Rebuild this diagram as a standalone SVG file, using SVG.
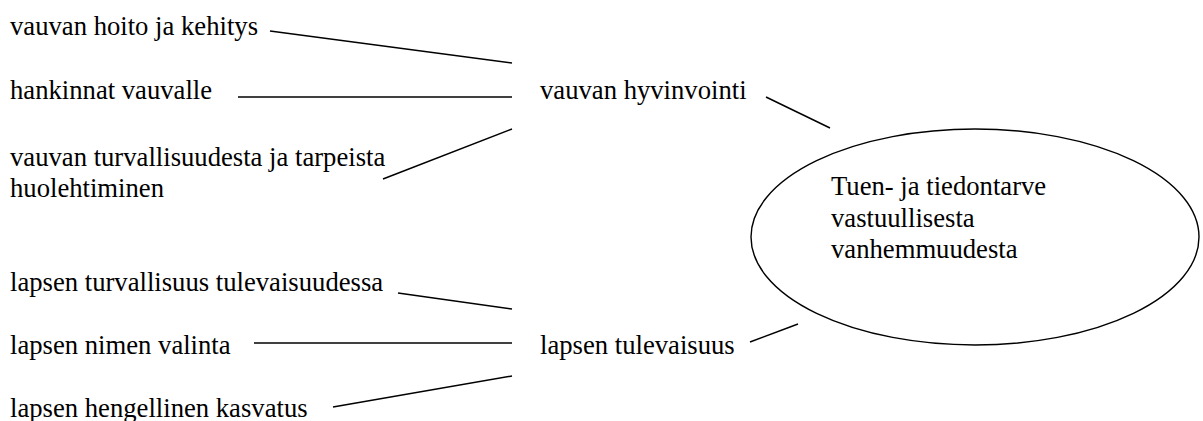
<svg xmlns="http://www.w3.org/2000/svg" width="1203" height="421" viewBox="0 0 1203 421">
<style>
text{font-family:'Liberation Serif',serif;font-size:26.67px;fill:#000}
.c line{stroke:#000;stroke-width:1.5}
.e{fill:#fff;stroke:#000;stroke-width:1.4}
</style>
<rect width="1203" height="421" fill="#fff"/>
<g class="c" id="connectors">
<line x1="270" y1="31" x2="512" y2="63"/>
<line x1="238" y1="97" x2="512" y2="97"/>
<line x1="383" y1="179" x2="512" y2="129"/>
<line x1="766" y1="97" x2="830" y2="128"/>
<line x1="398" y1="293" x2="512" y2="309"/>
<line x1="254" y1="343" x2="512" y2="343"/>
<line x1="333" y1="407" x2="512" y2="376"/>
<line x1="750" y1="342" x2="798" y2="324"/>
</g>
<g font-family="Liberation Serif, serif">
<g id="n-main"><ellipse class="e" cx="975" cy="237" rx="224" ry="108"/>
<text x="831" y="195">Tuen- ja tiedontarve</text>
<text x="831" y="227">vastuullisesta</text>
<text x="831" y="258">vanhemmuudesta</text></g>
<g id="n-hyvinvointi"><text x="540" y="99">vauvan hyvinvointi</text></g>
<g id="n-tulevaisuus"><text x="540" y="354">lapsen tulevaisuus</text></g>
<g id="n-hoito"><text x="10" y="35">vauvan hoito ja kehitys</text></g>
<g id="n-hankinnat"><text x="10" y="99">hankinnat vauvalle</text></g>
<g id="n-turvallisuus"><text x="10" y="166">vauvan turvallisuudesta ja tarpeista</text><text x="10" y="197">huolehtiminen</text></g>
<g id="n-lturv"><text x="10" y="291">lapsen turvallisuus tulevaisuudessa</text></g>
<g id="n-nimi"><text x="10" y="354">lapsen nimen valinta</text></g>
<g id="n-henk"><text x="10" y="417">lapsen hengellinen kasvatus</text></g>
</g>
</svg>
